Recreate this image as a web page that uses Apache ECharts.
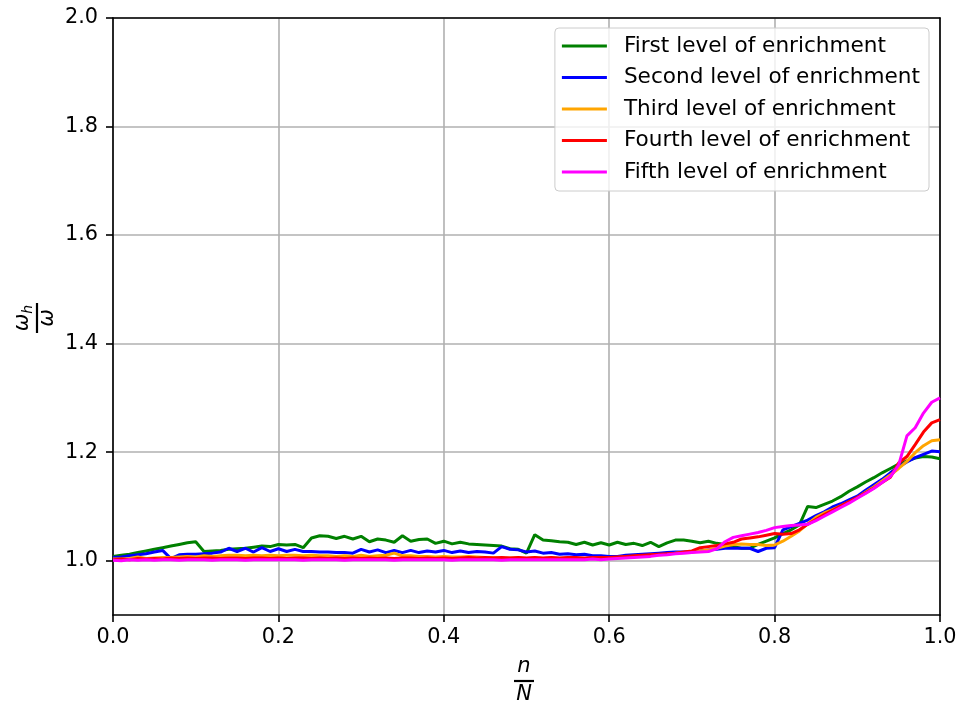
<!DOCTYPE html>
<html>
<head>
<meta charset="utf-8">
<script src="https://cdn.jsdelivr.net/npm/echarts@6/dist/echarts.min.js"></script>
<style>
  html, body { margin: 0; padding: 0; background: #fff; }
  #chart { width: 960px; height: 704px; }
</style>
</head>
<body>
<div id="chart"></div>
<script>
// n/N sample positions
const nOverN = [
  0.00, 0.01, 0.02, 0.03, 0.04, 0.05, 0.06, 0.07, 0.08, 0.09,
  0.10, 0.11, 0.12, 0.13, 0.14, 0.15, 0.16, 0.17, 0.18, 0.19,
  0.20, 0.21, 0.22, 0.23, 0.24, 0.25, 0.26, 0.27, 0.28, 0.29,
  0.30, 0.31, 0.32, 0.33, 0.34, 0.35, 0.36, 0.37, 0.38, 0.39,
  0.40, 0.41, 0.42, 0.43, 0.44, 0.45, 0.46, 0.47, 0.48, 0.49,
  0.50, 0.51, 0.52, 0.53, 0.54, 0.55, 0.56, 0.57, 0.58, 0.59,
  0.60, 0.61, 0.62, 0.63, 0.64, 0.65, 0.66, 0.67, 0.68, 0.69,
  0.70, 0.71, 0.72, 0.73, 0.74, 0.75, 0.76, 0.77, 0.78, 0.79,
  0.80, 0.81, 0.82, 0.83, 0.84, 0.85, 0.86, 0.87, 0.88, 0.89,
  0.90, 0.91, 0.92, 0.93, 0.94, 0.95, 0.96, 0.97, 0.98, 0.99,
  1.00
];

const firstLevel = [
  1.008, 1.010, 1.012, 1.015, 1.018, 1.021, 1.024, 1.027, 1.030, 1.033,
  1.035, 1.017, 1.018, 1.019, 1.021, 1.022, 1.023, 1.025, 1.027, 1.026,
  1.030, 1.029, 1.030, 1.024, 1.042, 1.046, 1.045, 1.041, 1.045, 1.040,
  1.045, 1.035, 1.040, 1.038, 1.034, 1.046, 1.036, 1.039, 1.040, 1.032,
  1.036, 1.031, 1.034, 1.031, 1.030, 1.029, 1.028, 1.027, 1.022, 1.021,
  1.014, 1.048, 1.038, 1.037, 1.035, 1.034, 1.030, 1.034, 1.029, 1.033,
  1.029, 1.034, 1.030, 1.032, 1.028, 1.034, 1.026, 1.033, 1.038, 1.038,
  1.036, 1.033, 1.036, 1.032, 1.030, 1.026, 1.023, 1.023, 1.030, 1.036,
  1.042, 1.050, 1.057, 1.066, 1.100, 1.098, 1.104, 1.110, 1.118, 1.128,
  1.136, 1.145, 1.153, 1.162, 1.170, 1.178, 1.184, 1.189, 1.192, 1.191,
  1.188
];

const secondLevel = [
  1.006, 1.007, 1.009, 1.011, 1.013, 1.016, 1.019, 1.004, 1.011, 1.012,
  1.012, 1.013, 1.014, 1.016, 1.023, 1.017, 1.023, 1.016, 1.024, 1.017,
  1.022, 1.017, 1.021, 1.017, 1.017, 1.016, 1.016, 1.015, 1.015, 1.014,
  1.021, 1.016, 1.020, 1.015, 1.019, 1.015, 1.019, 1.015, 1.018, 1.016,
  1.019, 1.015, 1.018, 1.015, 1.017, 1.016, 1.014, 1.026, 1.021, 1.020,
  1.016, 1.018, 1.014, 1.015, 1.012, 1.013, 1.011, 1.012, 1.009, 1.009,
  1.008, 1.008, 1.010, 1.011, 1.012, 1.013, 1.014, 1.015, 1.016, 1.016,
  1.017, 1.018, 1.020, 1.021, 1.023, 1.023, 1.023, 1.023, 1.017, 1.023,
  1.024, 1.057, 1.063, 1.069, 1.075, 1.083, 1.090, 1.099, 1.105, 1.112,
  1.119, 1.130, 1.140, 1.150, 1.162, 1.173, 1.182, 1.190, 1.196, 1.202,
  1.201
];

const thirdLevel = [
  1.003, 1.003, 1.004, 1.007, 1.004, 1.005, 1.006, 1.006, 1.007, 1.008,
  1.007, 1.009, 1.008, 1.009, 1.010, 1.010, 1.009, 1.010, 1.009, 1.010,
  1.009, 1.010, 1.010, 1.009, 1.010, 1.009, 1.009, 1.008, 1.009, 1.008,
  1.010, 1.008, 1.009, 1.010, 1.014, 1.009, 1.009, 1.008, 1.008, 1.007,
  1.008, 1.007, 1.007, 1.008, 1.007, 1.006, 1.006, 1.005, 1.005, 1.005,
  1.004, 1.005, 1.004, 1.005, 1.004, 1.005, 1.004, 1.004, 1.004, 1.005,
  1.005, 1.006, 1.007, 1.008, 1.009, 1.010, 1.011, 1.012, 1.014, 1.015,
  1.016, 1.018, 1.020, 1.023, 1.027, 1.030, 1.031, 1.030, 1.030, 1.028,
  1.029, 1.036, 1.045, 1.055, 1.068, 1.080, 1.088, 1.094, 1.101, 1.108,
  1.116, 1.126, 1.136, 1.147, 1.158, 1.170, 1.183, 1.199, 1.212, 1.221,
  1.223
];

const fourthLevel = [
  1.002, 1.003, 1.002, 1.004, 1.003, 1.004, 1.003, 1.005, 1.004, 1.005,
  1.004, 1.005, 1.005, 1.004, 1.005, 1.005, 1.004, 1.005, 1.005, 1.004,
  1.005, 1.004, 1.005, 1.005, 1.004, 1.005, 1.004, 1.005, 1.004, 1.005,
  1.004, 1.005, 1.004, 1.005, 1.004, 1.005, 1.005, 1.004, 1.005, 1.004,
  1.005, 1.004, 1.005, 1.006, 1.005, 1.006, 1.005, 1.006, 1.005, 1.006,
  1.005, 1.006, 1.005, 1.006, 1.005, 1.006, 1.006, 1.005, 1.006, 1.006,
  1.006, 1.007, 1.008, 1.009, 1.010, 1.011, 1.012, 1.013, 1.014, 1.016,
  1.018, 1.024, 1.026, 1.028, 1.031, 1.034, 1.040, 1.042, 1.044, 1.047,
  1.050, 1.049, 1.050, 1.057, 1.067, 1.076, 1.085, 1.093, 1.101, 1.109,
  1.117, 1.125, 1.134, 1.144, 1.154, 1.180, 1.192, 1.214, 1.237, 1.254,
  1.260
];

const fifthLevel = [
  1.001, 1.000, 1.002, 1.001, 1.002, 1.001, 1.002, 1.002, 1.001, 1.002,
  1.002, 1.002, 1.001, 1.002, 1.002, 1.002, 1.001, 1.002, 1.002, 1.002,
  1.002, 1.002, 1.002, 1.001, 1.002, 1.002, 1.002, 1.002, 1.001, 1.002,
  1.002, 1.002, 1.002, 1.002, 1.001, 1.002, 1.002, 1.002, 1.002, 1.002,
  1.002, 1.001, 1.002, 1.002, 1.002, 1.002, 1.002, 1.001, 1.002, 1.002,
  1.002, 1.002, 1.002, 1.002, 1.002, 1.002, 1.002, 1.002, 1.003, 1.002,
  1.003, 1.004, 1.005, 1.006, 1.007, 1.008, 1.010, 1.011, 1.013, 1.014,
  1.015, 1.016, 1.017, 1.022, 1.035, 1.043, 1.046, 1.049, 1.052, 1.056,
  1.061, 1.063, 1.065, 1.066, 1.067, 1.074, 1.082, 1.090, 1.098, 1.106,
  1.115, 1.124, 1.133, 1.144, 1.155, 1.176, 1.230, 1.245, 1.272, 1.292,
  1.300
];

const seriesNames = [
  "First level of enrichment",
  "Second level of enrichment",
  "Third level of enrichment",
  "Fourth level of enrichment",
  "Fifth level of enrichment",
];
const seriesColors = ["#008000", "#0000ff", "#ffa500", "#ff0000", "#ff00ff"];
const seriesValues = [firstLevel, secondLevel, thirdLevel, fourthLevel, fifthLevel];

const yTicks = [1.0, 1.2, 1.4, 1.6, 1.8, 2.0];

const chart = echarts.init(document.getElementById("chart"), null, { renderer: "canvas" });

const font = "DejaVu Sans";
const fs = 20.8;
const frame = { show: true, onZero: false, lineStyle: { color: "#000", width: 1.6 } };

// small helper for the math-like fraction labels
const mathText = (text, x, y, size) => ({
  type: "text",
  x,
  y,
  style: {
    text,
    align: "center",
    verticalAlign: "middle",
    fontFamily: font,
    fontStyle: "italic",
    fontSize: size,
    fill: "#000",
  },
});

const option = {
  backgroundColor: "#fff",
  animation: false,
  grid: { left: 113, right: 20, top: 18, bottom: 89 },
  legend: {
    orient: "vertical",
    right: 31,
    top: 28,
    data: seriesNames,
    icon: "rect",
    itemWidth: 45,
    itemHeight: 3,
    itemGap: 7.5,
    padding: [6, 9, 7, 7],
    backgroundColor: "rgba(255,255,255,0.8)",
    borderColor: "#cccccc",
    borderWidth: 1,
    borderRadius: 4,
    textStyle: {
      fontFamily: font,
      fontSize: 21.6,
      color: "#000",
      lineHeight: 24,
      padding: [0, 0, 0, 12],
    },
  },
  xAxis: [
    {
      type: "value",
      min: 0,
      max: 1,
      interval: 0.2,
      axisLine: frame,
      axisTick: { show: true, inside: false, length: 7, lineStyle: { color: "#000", width: 1.6 } },
      axisLabel: {
        color: "#000",
        fontFamily: font,
        fontSize: fs,
        margin: 12,
        formatter: (v) => v.toFixed(1),
      },
      splitLine: { show: true, lineStyle: { color: "#b0b0b0", width: 1.6 } },
    },
    {
      type: "value",
      position: "top",
      min: 0,
      max: 1,
      axisLine: frame,
      axisTick: { show: false },
      axisLabel: { show: false },
      splitLine: { show: false },
    },
  ],
  yAxis: [
    {
      type: "value",
      min: 0.9,
      max: 2.0,
      axisLine: frame,
      axisTick: {
        show: true,
        inside: false,
        length: 7,
        customValues: yTicks,
        lineStyle: { color: "#000", width: 1.6 },
      },
      axisLabel: {
        color: "#000",
        fontFamily: font,
        fontSize: fs,
        margin: 15,
        customValues: yTicks,
        formatter: (v) => v.toFixed(1),
      },
      splitLine: { show: true, lineStyle: { color: "#b0b0b0", width: 1.6 } },
    },
    {
      type: "value",
      position: "right",
      min: 0.9,
      max: 2.0,
      axisLine: frame,
      axisTick: { show: false },
      axisLabel: { show: false },
      splitLine: { show: false },
    },
  ],
  series: seriesNames.map((name, i) => ({
    name,
    type: "line",
    xAxisIndex: 0,
    yAxisIndex: 0,
    showSymbol: false,
    symbol: "none",
    data: nOverN.map((x, j) => [x, seriesValues[i][j]]),
    lineStyle: { color: seriesColors[i], width: 3 },
    itemStyle: { color: seriesColors[i] },
    z: 2 + i,
  })),
  graphic: [
    // y-axis label: omega_h over omega, rotated
    {
      type: "group",
      x: 37,
      y: 318,
      rotation: Math.PI / 2,
      children: [
        {
          type: "text",
          x: 0,
          y: -14,
          style: {
            text: "{w|ω}{s|h}",
            align: "center",
            verticalAlign: "middle",
            rich: {
              w: { fontFamily: font, fontStyle: "italic", fontSize: 21, fill: "#000" },
              s: { fontFamily: font, fontStyle: "italic", fontSize: 14, fill: "#000", padding: [10, 0, 0, 0] },
            },
          },
        },
        {
          type: "line",
          shape: { x1: -15, y1: 0, x2: 15, y2: 0 },
          style: { stroke: "#000", lineWidth: 2.2 },
        },
        mathText("ω", 0, 11, 21),
      ],
    },
    // x-axis label: n over N
    {
      type: "group",
      x: 524,
      y: 681,
      children: [
        mathText("n", 0, -14, 21),
        {
          type: "line",
          shape: { x1: -10, y1: 0, x2: 10, y2: 0 },
          style: { stroke: "#000", lineWidth: 2.2 },
        },
        mathText("N", 0, 14, 21),
      ],
    },
  ],
};

chart.setOption(option);
</script>
</body>
</html>
